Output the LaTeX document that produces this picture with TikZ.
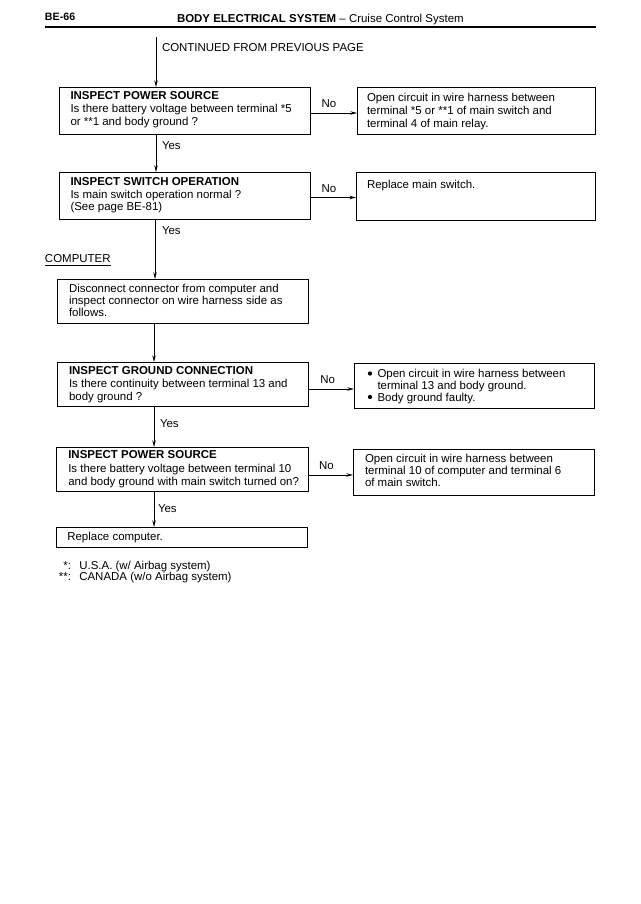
\documentclass[tikz,border=0pt]{standalone}
\usepackage{fontspec}
\setmainfont{Liberation Sans}
\usetikzlibrary{arrows.meta,fit}
\begin{document}
\begin{tikzpicture}[x=0.75pt,y=-0.75pt,
  box/.style={draw, line width=0.65pt, inner sep=0pt, outer sep=0pt},
  txt/.style={inner sep=0pt, outer sep=0pt, align=left, font=\fontsize{8.6}{9.75}\selectfont},
  ls/.style={font=\fontsize{8.6}{#1}\selectfont},
  arr/.style={line width=0.65pt, -{Stealth[length=5pt,width=2.6pt]}},
  bul/.style={circle, fill, inner sep=0pt, minimum size=3.2pt}
]
\useasboundingbox (0,0) rectangle (640,904);

% header
\node[txt, anchor=base west, font=\fontsize{8}{9}\selectfont\bfseries] (page) at (45,20.5) {BE-66};
\node[txt, anchor=base west] (title) at (177,22.1) {\textbf{BODY ELECTRICAL SYSTEM} -- Cruise Control System};
\coordinate (hl) at (45,26.8);
\coordinate (hr) at (596,26.8);
\draw[line width=1.3pt] (hl) -- (hr);

\node[txt, anchor=base west] (cont) at (162,51.8) {CONTINUED FROM PREVIOUS PAGE};
\coordinate (top) at (156,37);
\coordinate (s2) at (155,0);
\coordinate (s3) at (154,0);

% box 1
\node[box, fit={(59,87) (310,134)}] (b1) {};
\node[txt, anchor=north west] (b1t) at (70.5,91.9) {\textbf{INSPECT POWER SOURCE}\\Is there battery voltage between terminal *5\\or **1 and body ground ?};
\node[box, fit={(357,87) (595,134)}] (b1r) {};
\node[txt, anchor=north west] (b1rt) at (367,92.9) {Open circuit in wire harness between\\terminal *5 or **1 of main switch and\\terminal 4 of main relay.};
\node[txt] (n1) at (329,104) {No};
\coordinate (a1) at (0,113);
\node[txt, anchor=base west] (y1) at (162,149.8) {Yes};

% box 2
\node[box, fit={(59,172) (310,219)}] (b2) {};
\node[txt, ls=9.375pt, anchor=north west] (b2t) at (70.5,177.9) {\textbf{INSPECT SWITCH OPERATION}\\Is main switch operation normal ?\\(See page BE-81)};
\node[box, fit={(356,172) (595,220)}] (b2r) {};
\node[txt, anchor=north west] (b2rt) at (367,179.9) {Replace main switch.};
\node[txt] (n2) at (329,189) {No};
\coordinate (a2) at (0,197.5);
\node[txt, anchor=base west] (y2) at (162,234) {Yes};

% computer label
\node[txt, anchor=base west] (comp) at (45,262.4) {COMPUTER};
\draw[line width=0.6pt] ([yshift=-2pt]comp.base west) -- ([yshift=-2pt]comp.base east);

% box 3
\node[box, fit={(57,279) (308,323)}] (b3) {};
\node[txt, ls=9pt, anchor=north west] (b3t) at (69,284.6) {Disconnect connector from computer and\\inspect connector on wire harness side as\\follows.};

% box 4
\node[box, fit={(57,362) (308,406)}] (b4) {};
\node[txt, anchor=north west] (b4t) at (69,366.5) {\textbf{INSPECT GROUND CONNECTION}\\Is there continuity between terminal 13 and\\body ground ?};
\node[box, fit={(354,363) (594,408)}] (b4r) {};
\node[bul] (d1) at (370,373.5) {};
\node[txt, ls=9pt, anchor=north west] (b4rt1) at (377.5,369.4) {Open circuit in wire harness between\\terminal 13 and body ground.};
\node[bul] (d2) at (370,397) {};
\node[txt, anchor=base west] (b4rt2) at (377.5,401.1) {Body ground faulty.};
\node[txt] (n4) at (327.7,380) {No};
\coordinate (a4) at (0,389);
\node[txt, anchor=base west] (y3) at (160,427.4) {Yes};

% box 5
\node[box, fit={(56,447) (308,491)}] (b5) {};
\node[txt, ls=10.125pt, anchor=north west] (b5t) at (68.3,450.9) {\textbf{INSPECT POWER SOURCE}\\Is there battery voltage between terminal 10\\and body ground with main switch turned on?};
\node[box, fit={(353,449) (594,495)}] (b5r) {};
\node[txt, ls=9pt, anchor=north west] (b5rt) at (365,454.2) {Open circuit in wire harness between\\terminal 10 of computer and terminal 6\\of main switch.};
\node[txt] (n5) at (326.5,465.7) {No};
\coordinate (a5) at (0,475);
\node[txt, anchor=base west] (y4) at (158,512) {Yes};

% box 6
\node[box, fit={(56,527) (307,547)}] (b6) {};
\node[txt, anchor=base west] (b6t) at (67.3,540.8) {Replace computer.};

% footnotes
\node[txt, anchor=base east] (f1a) at (71,569.8) {*:};
\node[txt, anchor=base west] (f1b) at (79.3,569.8) {U.S.A. (w/ Airbag system)};
\node[txt, anchor=base east] (f2a) at (71,580.8) {**:};
\node[txt, anchor=base west] (f2b) at (79.3,580.8) {CANADA (w/o Airbag system)};

% connectors
\draw[arr] (top) -- (top |- b1.north);
\draw[arr] (b1.east |- a1) -- (b1r.west |- a1);
\draw[arr] (b1.south -| top) -- (b2.north -| top);
\draw[arr] (b2.east |- a2) -- (b2r.west |- a2);
\draw[arr] (b2.south -| s2) -- (b3.north -| s2);
\draw[arr] (b3.south -| s3) -- (b4.north -| s3);
\draw[arr] (b4.east |- a4) -- (b4r.west |- a4);
\draw[arr] (b4.south -| s3) -- (b5.north -| s3);
\draw[arr] (b5.east |- a5) -- (b5r.west |- a5);
\draw[arr] (b5.south -| s3) -- (b6.north -| s3);
\end{tikzpicture}
\end{document}
